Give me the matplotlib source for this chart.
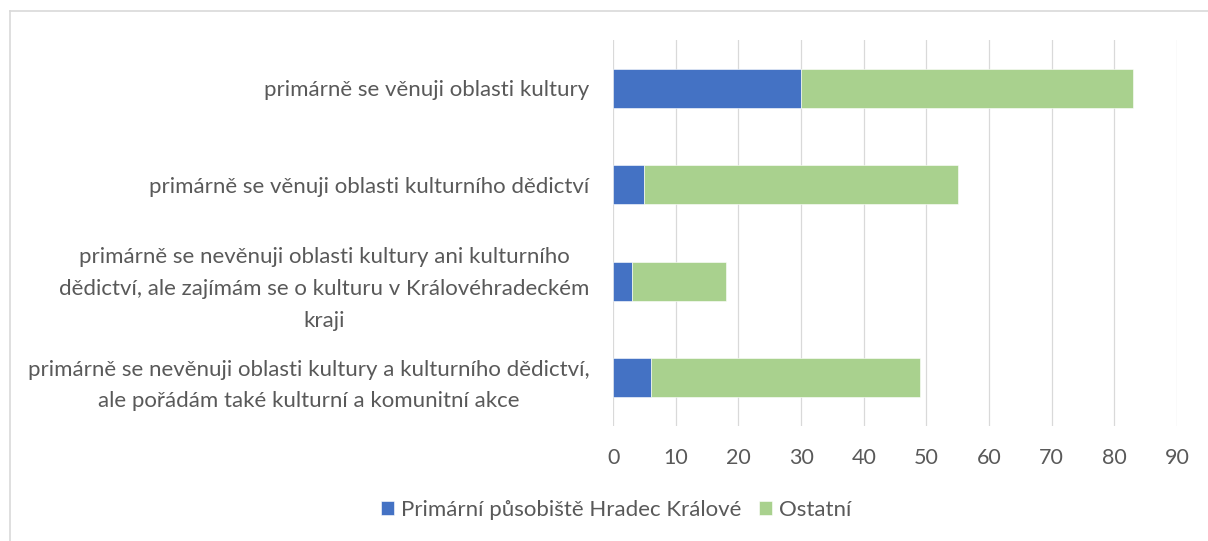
import numpy as np
import matplotlib
matplotlib.use("Agg")
import matplotlib.pyplot as plt
from matplotlib.lines import Line2D

# ---------------- DATOS ----------------
kategorie = [
    "primárně se věnuji oblasti kultury",
    "primárně se věnuji oblasti kulturního dědictví",
    "primárně se nevěnuji oblasti kultury ani kulturního\ndědictví, ale zajímám se o kulturu v Královéhradeckém\nkraji",
    "primárně se nevěnuji oblasti kultury a kulturního dědictví,\nale pořádám také kulturní a komunitní akce",
]
hradec = [30, 5, 3, 6]
ostatni = [53, 50, 15, 43]
serie = ["Primární působiště Hradec Králové", "Ostatní"]
x_ticks = [0, 10, 20, 30, 40, 50, 60, 70, 80, 90]

# ---------------- ESTILO ----------------
plt.rcParams['font.family'] = ['Lato', 'DejaVu Sans']
text_col = "#595959"
modra = "#4472C4"
zelena = "#A9D18E"

fig = plt.figure(figsize=(12.08, 5.41), dpi=100)
ax = fig.add_axes([0.5076, 0.2126, 0.4666, 0.7134])

y = np.arange(len(kategorie))
ax.barh(y, hradec, height=0.4, color=modra, label=serie[0],
        edgecolor="white", linewidth=0.4, zorder=3)
ax.barh(y, ostatni, left=hradec, height=0.4, color=zelena, label=serie[1],
        edgecolor="white", linewidth=0.4, zorder=3)

ax.set_xlim(0, 90)
ax.set_ylim(3.5, -0.5)
ax.set_xticks(x_ticks)
ax.set_yticks(y)
ax.set_yticklabels(kategorie, fontsize=16, color=text_col,
                   multialignment="center", linespacing=1.72)
ax.tick_params(axis="x", labelsize=15.5, labelcolor=text_col, length=0, pad=16)
ax.tick_params(axis="y", length=0, pad=17)

ax.grid(axis="x", color="#D9D9D9", linewidth=0.9, zorder=0)
for s in ax.spines.values():
    s.set_visible(False)

# leyenda abajo
ax.legend(loc="center", bbox_to_anchor=(616 / 1208, 1 - 510 / 541),
          bbox_transform=fig.transFigure, ncol=2, frameon=False,
          fontsize=16, labelcolor=text_col, handlelength=0.6,
          handleheight=0.6, handletextpad=0.3, columnspacing=0.8)

# marco del gráfico (solo arriba e izquierda visibles)
fig.add_artist(Line2D([10 / 1208, 1], [1 - 11 / 541, 1 - 11 / 541],
                      transform=fig.transFigure, color="#D9D9D9", linewidth=1.2))
fig.add_artist(Line2D([10 / 1208, 10 / 1208], [0, 1 - 11 / 541],
                      transform=fig.transFigure, color="#D9D9D9", linewidth=1.2))

fig.savefig("out.png", dpi=100)
